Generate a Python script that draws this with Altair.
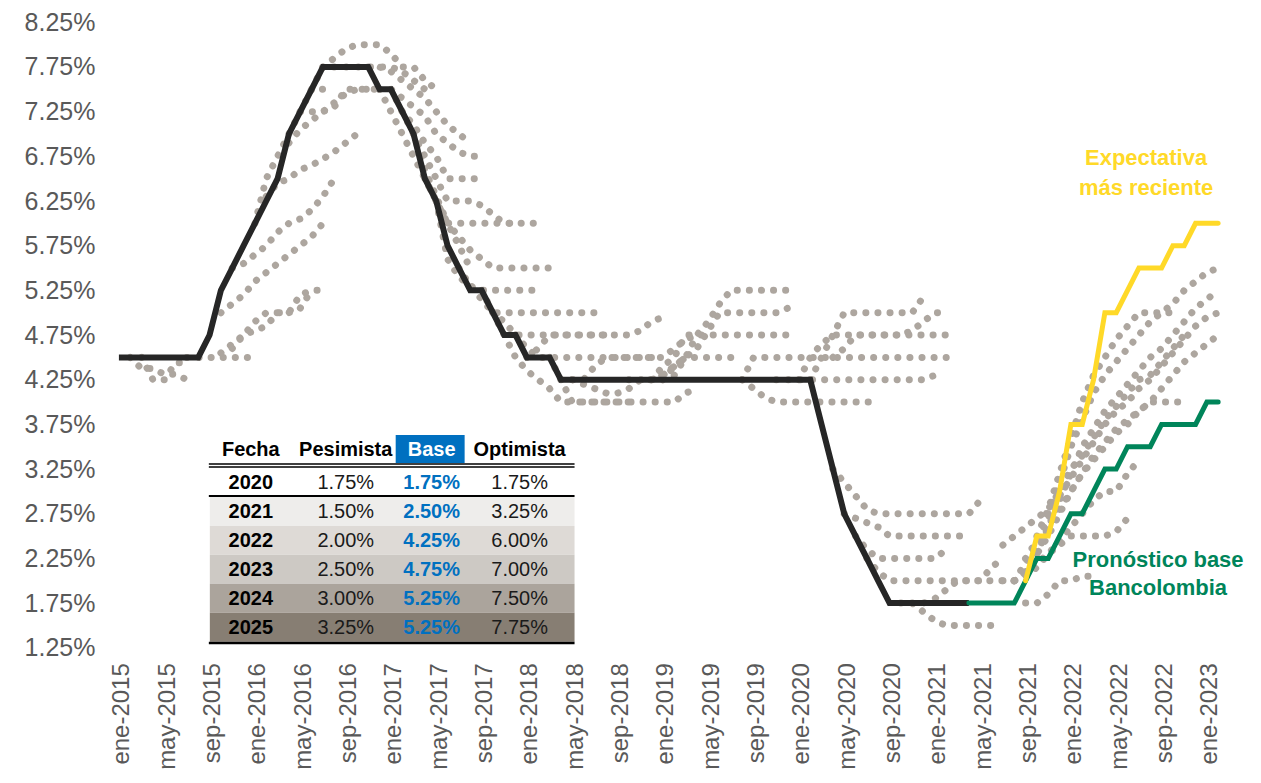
import json
import altair as alt
import pandas as pd

FONT = "Liberation Sans, Arial, sans-serif"

# ---------------- data ----------------
month_names = ['ene', 'feb', 'mar', 'abr', 'may', 'jun', 'jul', 'ago', 'sep', 'oct', 'nov', 'dic']
first_year = 2015
tick_months = list(range(0, 97, 4))
y_ticks = [1.25, 1.75, 2.25, 2.75, 3.25, 3.75, 4.25, 4.75, 5.25, 5.75, 6.25, 6.75, 7.25, 7.75, 8.25]

# policy rate (month index 0 = ene-2015)
black_start = 0
black_vals = ([4.5] * 8 + [4.75, 5.25, 5.5, 5.75, 6.0, 6.25, 6.5, 7.0, 7.25, 7.5] + [7.75] * 5
              + [7.5, 7.5, 7.25, 7.0, 6.5, 6.25, 5.75, 5.5, 5.25, 5.25, 5.0, 4.75, 4.75, 4.5, 4.5, 4.5]
              + [4.25] * 23 + [3.75, 3.25, 2.75, 2.5, 2.25, 2.0] + [1.75] * 8)

green_start = 75
green_vals = [1.75] * 5 + [2.0, 2.25, 2.25, 2.5, 2.75, 2.75, 3.0, 3.25, 3.25, 3.5, 3.5, 3.5,
                           3.75, 3.75, 3.75, 3.75, 4.0, 4.0]

yellow_start = 80
yellow_vals = [2.0, 2.5, 2.5, 3.0, 3.75, 3.75, 4.25, 5.0, 5.0, 5.25, 5.5, 5.5, 5.5, 5.75, 5.75, 6.0, 6.0, 6.0]

# past expectation paths (first month, monthly values)
gray_starts = [1, 2, 6, 9, 10, 9, 10, 13, 15, 16, 12, 17, 18,
               22, 23, 24, 25, 26, 27, 28, 23, 30, 32, 33, 35,
               36, 38, 39, 40, 45, 47, 48, 49,
               55, 55, 58, 60, 61, 63,
               63, 64, 65, 66, 69, 70,
               80, 79, 78, 79, 80, 80, 81, 81, 82, 78]
gray_paths = [
    [4.5, 4.375, 4.375, 4.31, 4.31, 4.25],
    [4.5, 4.25, 4.25, 4.44, 4.44],
    [4.5, 4.5, 4.5, 4.5, 4.5, 4.5, 4.5],
    [4.55, 4.65, 4.75, 4.8, 4.85, 5.0, 5.0, 5.2, 5.25, 5.25],
    [4.6, 4.75, 4.9, 5.0, 5.0, 5.0, 5.05, 5.25],
    [5.0, 5.1, 5.2, 5.35, 5.45, 5.55, 5.65, 5.75, 5.85, 6.0],
    [5.5, 5.55, 5.65, 5.75, 5.9, 6.0, 6.05, 6.15, 6.3, 6.5],
    [6.3, 6.45, 6.5, 6.6, 6.65, 6.72, 6.8, 6.9, 7.0],
    [6.9, 7.05, 7.15, 7.25, 7.35, 7.45, 7.5, 7.5],
    [7.25, 7.25, 7.25, 7.3, 7.5, 7.5, 7.5, 7.5],
    [6.0, 6.5, 6.75, 7.0, 7.25, 7.5, 7.5, 7.5],
    [7.5, 7.75, 7.75, 7.75, 7.75, 7.75, 7.75, 7.75, 7.7, 7.6, 7.5],
    [7.75, 7.85, 7.95, 8.0, 8.0, 8.0, 7.9, 7.75, 7.75, 7.6, 7.5],
    [7.75, 7.75, 7.7, 7.6, 7.5, 7.4, 7.25, 7.1, 7.0, 6.9],
    [7.5, 7.5, 7.4, 7.3, 7.2, 7.0, 6.9, 6.8, 6.75, 6.75],
    [7.5, 7.25, 7.1, 6.9, 6.75, 6.5, 6.5, 6.5, 6.5],
    [7.25, 7.0, 6.75, 6.5, 6.25, 6.25, 6.25, 6.2, 6.1, 6.0, 6.0],
    [7.0, 6.6, 6.3, 6.0, 6.0, 6.0, 6.0, 6.0, 6.0, 6.0, 6.0, 6.0],
    [6.5, 6.25, 6.0, 5.85, 5.7, 5.6, 5.5, 5.5, 5.5, 5.5, 5.5, 5.5],
    [6.25, 5.6, 5.4, 5.3, 5.25, 5.25, 5.25, 5.25, 5.25, 5.25],
    [7.5, 7.25, 7.0, 6.75, 6.5, 6.25, 6.0, 5.75, 5.5],
    [5.5, 5.3, 5.15, 5.0, 5.0, 5.0, 5.0, 5.0, 5.0, 5.0, 5.0, 5.0, 5.0],
    [5.25, 5.0, 4.9, 4.75, 4.75, 4.75, 4.75, 4.75, 4.75, 4.75, 4.75, 4.75],
    [5.0, 4.75, 4.5, 4.35, 4.25, 4.15, 4.0, 4.0, 4.0, 4.0, 4.0, 4.0, 4.0, 4.0],
    [4.75, 4.6, 4.5, 4.5, 4.5, 4.5, 4.5, 4.5, 4.5, 4.5, 4.5, 4.5, 4.5, 4.5],
    [4.5, 4.6, 4.75, 4.75, 4.75, 4.75, 4.75, 4.75, 4.75, 4.75, 4.8, 4.9, 4.95],
    [4.5, 4.25, 4.0, 4.0, 4.0, 4.0, 4.0, 4.0, 4.0, 4.0, 4.0, 4.0, 4.1, 4.15],
    [4.25, 4.25, 4.25, 4.4, 4.5, 4.5, 4.5, 4.5, 4.5, 4.5, 4.6, 4.7, 4.75],
    [4.25, 4.2, 4.15, 4.1, 4.1, 4.15, 4.25, 4.25, 4.3, 4.4, 4.5],
    [4.25, 4.25, 4.25, 4.3, 4.4, 4.5, 4.5, 4.5, 4.5, 4.5, 4.5],
    [4.25, 4.4, 4.5, 4.75, 4.75, 4.75, 4.75, 4.75, 4.75, 4.75, 4.75, 4.75, 4.75],
    [4.25, 4.4, 4.5, 4.6, 4.8, 5.0, 5.0, 5.0, 5.0, 5.0, 5.0, 5.05],
    [4.3, 4.5, 4.75, 4.9, 5.1, 5.25, 5.25, 5.25, 5.25, 5.25, 5.25],
    [4.25, 4.15, 4.05, 4.0, 4.0, 4.0, 4.0, 4.0, 4.0, 4.0, 4.0, 4.0, 4.0],
    [4.25, 4.5, 4.5, 4.5, 4.5, 4.5, 4.5, 4.5, 4.5, 4.5, 4.5, 4.5, 4.5, 4.5, 4.5, 4.5, 4.5, 4.5, 4.5],
    [4.25, 4.25, 4.25, 4.25, 4.25, 4.25, 4.25, 4.25, 4.25, 4.25, 4.25, 4.25, 4.25, 4.25, 4.3],
    [4.25, 4.5, 4.65, 4.75, 4.75, 4.75, 4.75, 4.75, 4.75, 4.75, 4.75, 4.75, 4.75, 4.75],
    [4.25, 4.5, 4.75, 5.0, 5.0, 5.0, 5.0, 5.0, 5.0, 5.0, 5.18],
    [4.5, 4.6, 4.75, 4.75, 4.75, 4.75, 4.75, 4.8, 4.9, 5.0, 5.0],
    [3.25, 3.1, 2.95, 2.8, 2.75, 2.75, 2.75, 2.75, 2.75, 2.75, 2.75, 2.75, 2.75, 2.9],
    [2.75, 2.7, 2.65, 2.6, 2.5, 2.5, 2.5, 2.5, 2.5, 2.5, 2.5, 2.5],
    [2.5, 2.35, 2.25, 2.25, 2.25, 2.25, 2.25, 2.25, 2.35],
    [2.25, 2.1, 2.0, 2.0, 2.0, 2.0, 2.0, 2.0, 2.0, 2.0, 2.0, 2.15, 2.25],
    [1.75, 1.75, 1.65, 1.55, 1.5, 1.5, 1.5, 1.5, 1.5],
    [1.75, 1.75, 1.8, 1.9, 2.0, 2.0, 2.0, 2.0, 2.0, 2.0],
    [1.75, 1.75, 1.85, 2.0, 2.0, 2.05, 2.05],
    [2.0, 2.1, 2.2, 2.3, 2.4, 2.5, 2.5, 2.5, 2.5, 2.55, 2.7],
    [2.0, 2.0, 2.05, 2.15, 2.3, 2.45, 2.6, 2.75, 2.9, 3.0, 3.0, 3.2, 3.35],
    [2.0, 2.2, 2.4, 2.6, 2.8, 3.0, 3.2, 3.4, 3.55, 3.7, 3.8, 3.9, 4.0, 4.0, 4.0, 4.0],
    [2.1, 2.3, 2.5, 2.75, 3.0, 3.2, 3.35, 3.5, 3.65, 3.75, 3.9, 4.0, 4.15, 4.3, 4.45, 4.55, 4.65, 4.75],
    [2.25, 2.45, 2.7, 2.95, 3.15, 3.35, 3.55, 3.75, 3.9, 4.0, 4.15, 4.25, 4.4, 4.55, 4.7, 4.85, 4.95, 5.0],
    [2.3, 2.6, 2.9, 3.2, 3.5, 3.7, 3.9, 4.05, 4.2, 4.35, 4.5, 4.6, 4.75, 4.9, 5.05, 5.15, 5.25],
    [2.5, 2.8, 3.2, 3.6, 4.0, 4.3, 4.5, 4.7, 4.85, 5.0, 5.0, 5.0, 5.0],
    [2.75, 3.1, 3.5, 3.8, 4.1, 4.3, 4.45, 4.6, 4.75, 4.9, 5.0, 5.1, 5.25, 5.35, 5.45, 5.5],
    [2.4, 2.5, 2.6, 2.7, 2.8, 3.0, 3.25, 3.4, 3.6, 3.8, 3.95, 4.1, 4.25, 4.3, 4.45, 4.6, 4.75],
]

# table
table_header = ['Fecha', 'Pesimista', 'Base', 'Optimista']
table_years = ['2020', '2021', '2022', '2023', '2024', '2025']
table_pes = ['1.75%', '1.50%', '2.00%', '2.50%', '3.00%', '3.25%']
table_base = ['1.75%', '2.50%', '4.25%', '4.75%', '5.25%', '5.25%']
table_opt = ['1.75%', '3.25%', '6.00%', '7.00%', '7.50%', '7.75%']
row_fills = ['#FFFFFF', '#EEEDEB', '#DEDAD6', '#CDC9C4', '#ABA49C', '#877E73']

label_yellow = ['Expectativa', 'más reciente']
label_green = ['Pronóstico base', 'Bancolombia']

# ---------------- frames ----------------
def series(start, vals):
    return pd.DataFrame({'m': [start + i for i in range(len(vals))], 'v': vals})

black_df = series(black_start, black_vals)
green_df = series(green_start, green_vals)
yellow_df = series(yellow_start, yellow_vals)
gray_df = pd.concat(
    [series(s, p).assign(path=i) for i, (s, p) in enumerate(zip(gray_starts, gray_paths))],
    ignore_index=True)

# ---------------- layout (pixels inside the plot area) ----------------
TOP = 14
W, H = 1107, 626
dy = -(TOP - 12)   # keep table/labels at the same page position
col_x = [132, 227, 313, 401]
tab_x0, tab_x1 = 91, 456
header_y = 430 + dy
row0_y = 463 + dy
row_tops = [t + dy for t in [477, 506, 535, 564, 593]]
row_h = 29

rects = []
for i, top in enumerate(row_tops):
    rects.append({'x': tab_x0, 'x2': tab_x1, 'y': top, 'y2': top + row_h, 'f': row_fills[i + 1]})
rects.append({'x': 277, 'x2': 346, 'y': 415 + dy, 'y2': 443 + dy, 'f': '#0070C0'})
rects.append({'x': tab_x0 - 1, 'x2': tab_x1, 'y': 443.2 + dy, 'y2': 444.7 + dy, 'f': '#000000'})
rects.append({'x': tab_x0 - 1, 'x2': tab_x1, 'y': 446.2 + dy, 'y2': 447.7 + dy, 'f': '#000000'})
rects.append({'x': tab_x0 - 1, 'x2': tab_x1, 'y': 475.0 + dy, 'y2': 477.0 + dy, 'f': '#000000'})
rects.append({'x': tab_x0 - 1, 'x2': tab_x1, 'y': 622.0 + dy, 'y2': 624.5 + dy, 'f': '#000000'})
rect_df = pd.DataFrame(rects)

row_centers = [row0_y] + [t + row_h / 2 + 0.5 for t in row_tops]
bold_cells, norm_cells = [], []
for j, h in enumerate(table_header):
    bold_cells.append({'x': col_x[j], 'y': header_y, 't': h,
                       'c': '#FFFFFF' if h == 'Base' else '#000000'})
for i in range(len(table_years)):
    yy = row_centers[i]
    bold_cells.append({'x': col_x[0], 'y': yy, 't': table_years[i], 'c': '#000000'})
    bold_cells.append({'x': col_x[2], 'y': yy, 't': table_base[i], 'c': '#0070C0'})
    norm_cells.append({'x': col_x[1], 'y': yy, 't': table_pes[i], 'c': '#1A1A1A'})
    norm_cells.append({'x': col_x[3], 'y': yy, 't': table_opt[i], 'c': '#1A1A1A'})
bold_df = pd.DataFrame(bold_cells)
norm_df = pd.DataFrame(norm_cells)

annot_df = pd.DataFrame([
    {'x': 1028, 'y': 145 + dy, 't': label_yellow[0], 'c': '#FFD928'},
    {'x': 1028, 'y': 175 + dy, 't': label_yellow[1], 'c': '#FFD928'},
    {'x': 1040, 'y': 547 + dy, 't': label_green[0], 'c': '#00855A'},
    {'x': 1040, 'y': 575 + dy, 't': label_green[1], 'c': '#00855A'},
])

# ---------------- encodings ----------------
x_label_expr = (json.dumps(month_names) + "[datum.value % 12] + '-' + ("
                + str(first_year) + " + floor(datum.value / 12))")

xenc = alt.X('m:Q', title=None,
             scale=alt.Scale(domain=[0, 97.6], nice=False, zero=False),
             axis=alt.Axis(values=tick_months, labelExpr=x_label_expr, labelAngle=-90,
                           labelFont=FONT, labelFontSize=24, labelColor='#595959',
                           domain=False, ticks=False, tickSize=0, grid=False,
                           labelPadding=15, labelOffset=3, labelOverlap=False,
                           labelFlush=False, labelBound=False))
yenc = alt.Y('v:Q', title=None,
             scale=alt.Scale(domain=[1.25, 8.25], nice=False, zero=False),
             axis=alt.Axis(values=y_ticks, labelExpr="format(datum.value, '.2f') + '%'",
                           labelFont=FONT, labelFontSize=25, labelColor='#595959',
                           domain=False, ticks=False, tickSize=0, grid=False,
                           labelPadding=24, labelOverlap=False, labelFlush=False))

px = alt.X('x:Q', scale=None, axis=None)
py = alt.Y('y:Q', scale=None, axis=None)

gray = alt.Chart(gray_df).mark_line(
    color='#ADA69F', strokeWidth=7, strokeDash=[0.1, 12], strokeCap='round'
).encode(x=xenc, y=yenc, detail='path:N', order='m:Q')

black = alt.Chart(black_df).mark_line(
    color='#262626', strokeWidth=6, strokeJoin='miter'
).encode(x=xenc, y=yenc, order='m:Q')

green = alt.Chart(green_df).mark_line(
    color='#00855A', strokeWidth=5, strokeCap='round', strokeJoin='miter'
).encode(x=xenc, y=yenc, order='m:Q')

yellow = alt.Chart(yellow_df).mark_line(
    color='#FFD928', strokeWidth=5, strokeCap='round', strokeJoin='miter'
).encode(x=xenc, y=yenc, order='m:Q')

table_bg = alt.Chart(rect_df).mark_rect().encode(
    x=px, x2='x2:Q', y=py, y2='y2:Q', color=alt.Color('f:N', scale=None))

table_bold = alt.Chart(bold_df).mark_text(
    font=FONT, fontSize=20, fontWeight='bold', align='center', baseline='middle'
).encode(x=px, y=py, text='t:N', color=alt.Color('c:N', scale=None))

table_norm = alt.Chart(norm_df).mark_text(
    font=FONT, fontSize=20, align='center', baseline='middle'
).encode(x=px, y=py, text='t:N', color=alt.Color('c:N', scale=None))

annot = alt.Chart(annot_df).mark_text(
    font=FONT, fontSize=22, fontWeight='bold', align='center', baseline='alphabetic'
).encode(x=px, y=py, text='t:N', color=alt.Color('c:N', scale=None))

chart = alt.layer(gray, black, green, yellow, table_bg, table_bold, table_norm, annot).properties(
    width=W, height=H,
    padding={'left': 111, 'top': TOP, 'right': 28, 'bottom': 125},
    autosize=alt.AutoSizeParams(type='none'),
).configure_view(strokeWidth=0)

chart.save("out.html", embed_options={"renderer": "svg", "actions": False})
